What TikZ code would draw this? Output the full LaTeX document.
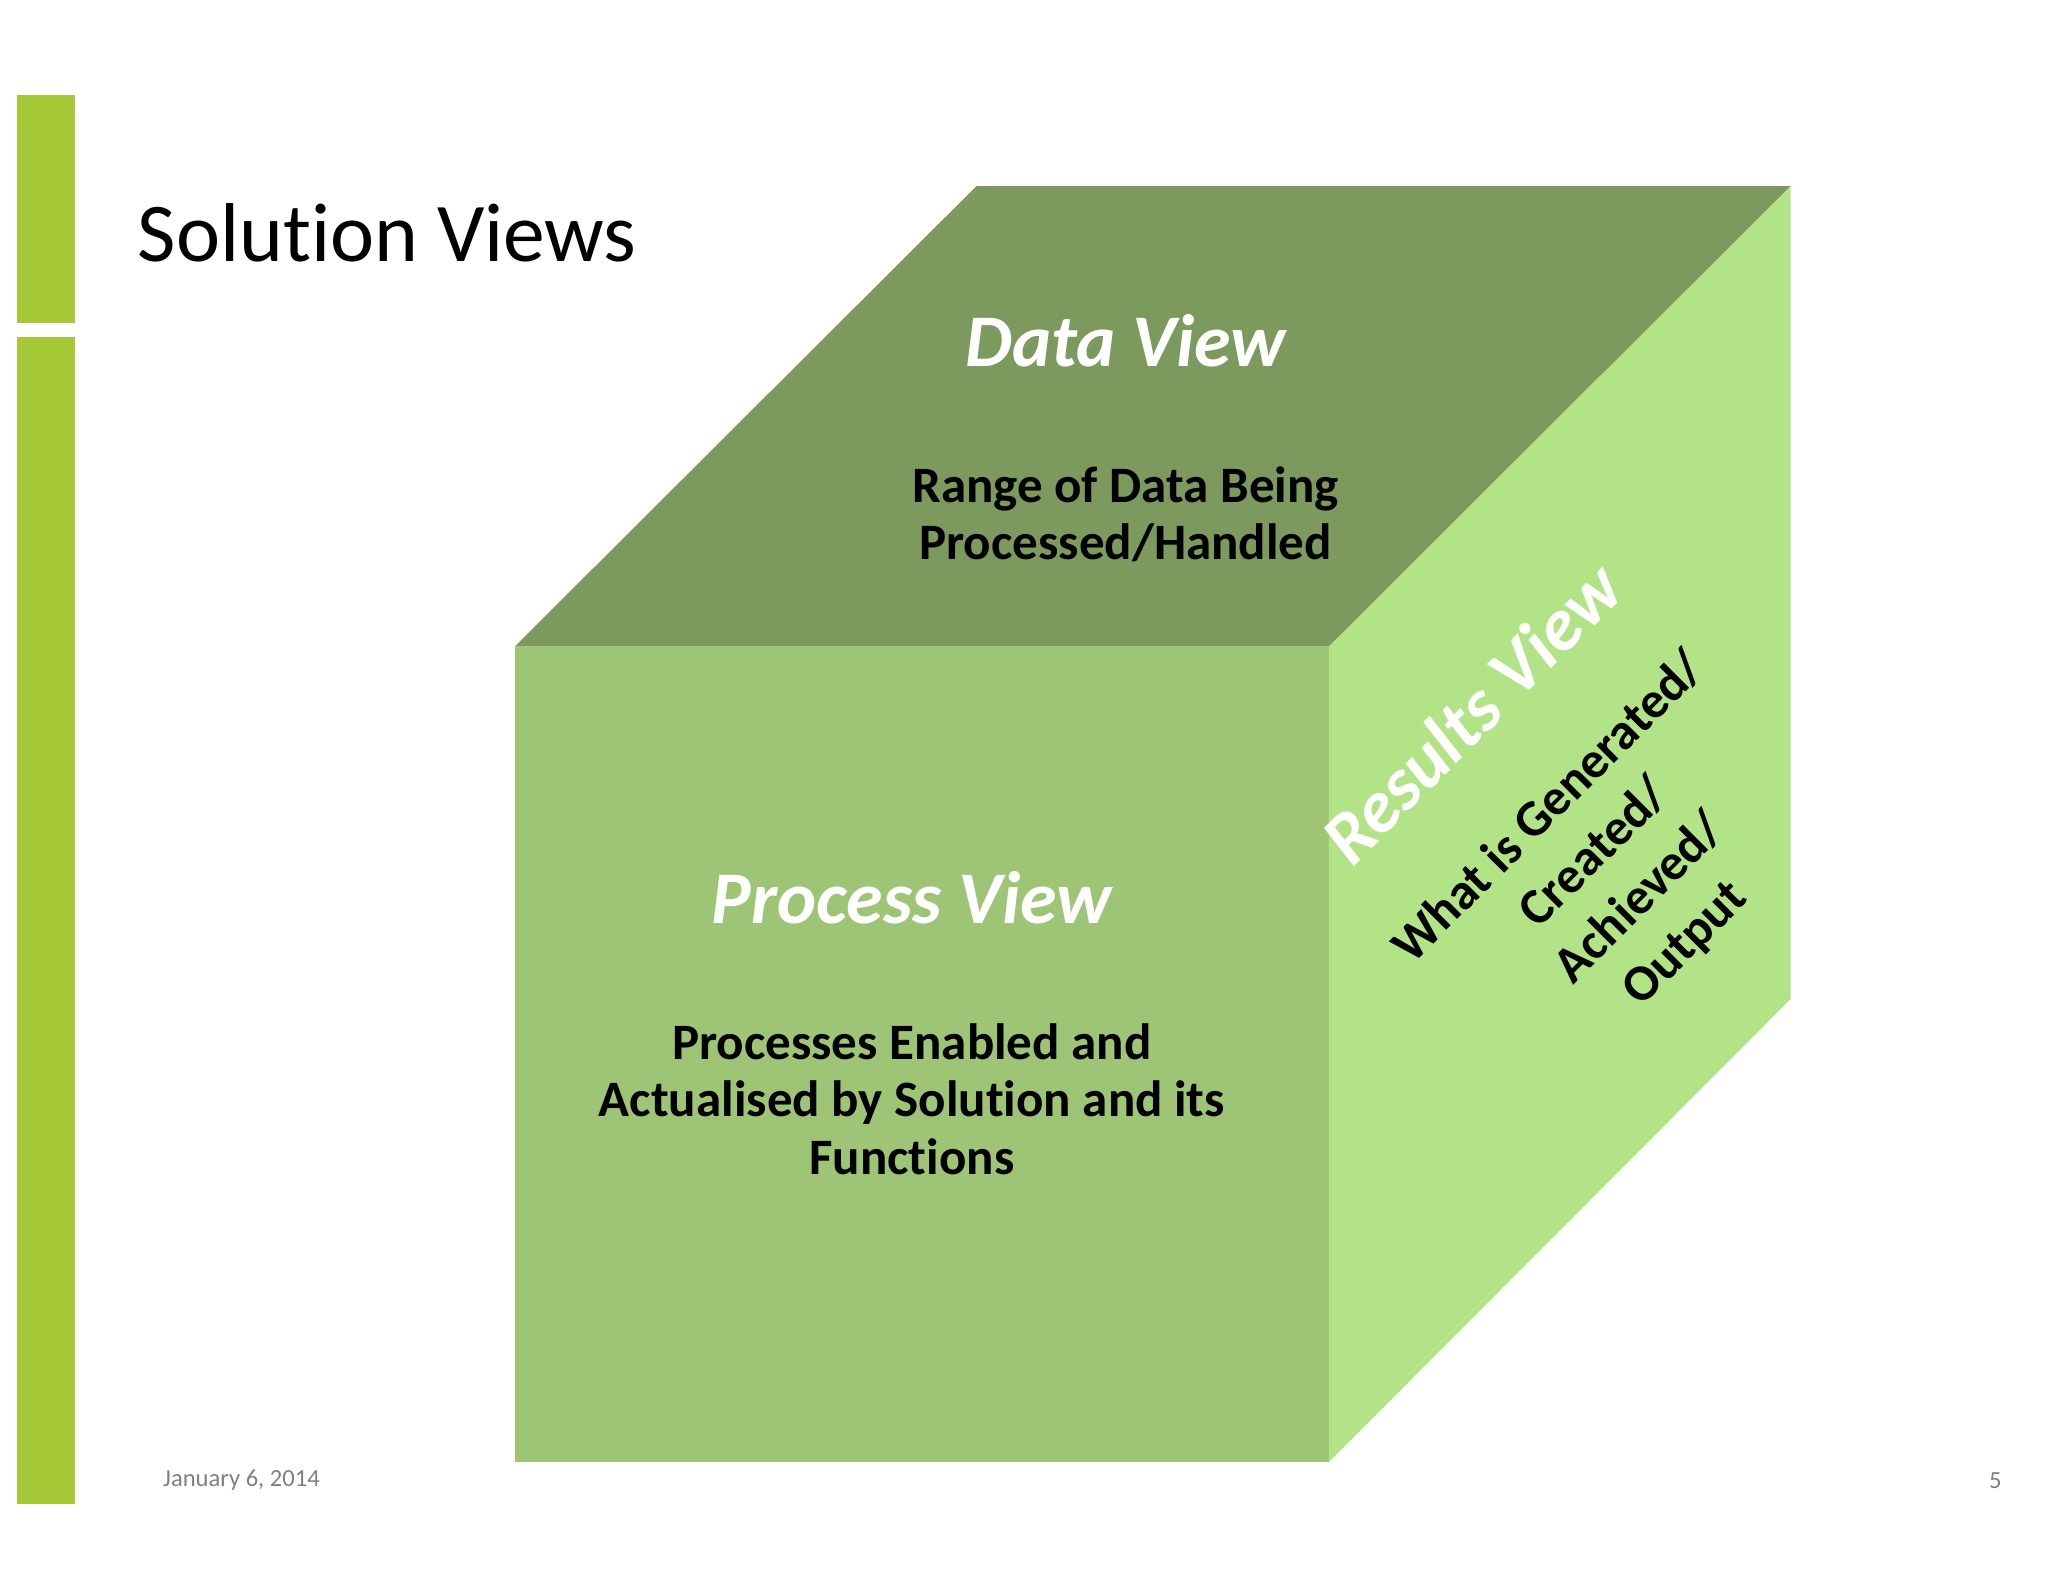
\documentclass[tikz,border=0pt]{standalone}
\usepackage{fontspec}
\setmainfont{Carlito}[Ligatures=NoCommon]
\usetikzlibrary{positioning,calc}
\definecolor{barGreen}{HTML}{A6CA37}
\definecolor{topFace}{HTML}{7D9A5E}
\definecolor{frontFace}{HTML}{9EC576}
\definecolor{sideFace}{HTML}{B3E387}
\tikzset{
  viewTitle/.style={text=white, font=\fontsize{16}{19}\selectfont\bfseries\itshape},
  viewText/.style={align=center, font=\fontsize{11}{12.3}\selectfont\bfseries},
  footer/.style={text=gray, font=\fontsize{5.3}{7}\selectfont}
}
\begin{document}
\begin{tikzpicture}[x=0.01cm,y=-0.01cm]
    \useasboundingbox (0,0) rectangle (1552,1199);

    % Side bars
    \fill[barGreen] (13,72) rectangle (57,245);
    \fill[barGreen] (13,255) rectangle (57,1140);

    % Title
    \node[anchor=base west, font=\fontsize{18}{22}\selectfont] (title) at (92,198) {Solution Views};

    % Cube faces
    \fill[topFace] (390,490) -- (740,141) -- (1357,141) -- (1007,490) -- cycle;
    \fill[frontFace] (390,490) rectangle (1007,1108);
    \fill[sideFace] (1007,490) -- (1357,141) -- (1357,757) -- (1007,1108) -- cycle;

    % Top face labels
    \node[viewTitle] (dataTitle) at (853,258) {Data View};
    \node[viewText] (dataText) at (853,390) {Range of Data Being\\Processed/Handled};

    % Front face labels
    \node[viewTitle] (procTitle) at (691,680) {Process View};
    \node[viewText] (procText) at (691,833) {Processes Enabled and\\Actualised by Solution and its\\Functions};

    % Side face labels
    \node[viewTitle, rotate=45] (resTitle) at (1115,540) {Results View};
    \node[viewText, rotate=45, font=\fontsize{11}{13.8}\selectfont\bfseries] (resText) at (1226,664) {What is Generated/\\Created/\\Achieved/\\Output};

    % Footer
    \node[footer] (date) at (183,1122) {January 6, 2014};
    \node[footer] (page) at (1512,1122) {5};
\end{tikzpicture}
\end{document}
